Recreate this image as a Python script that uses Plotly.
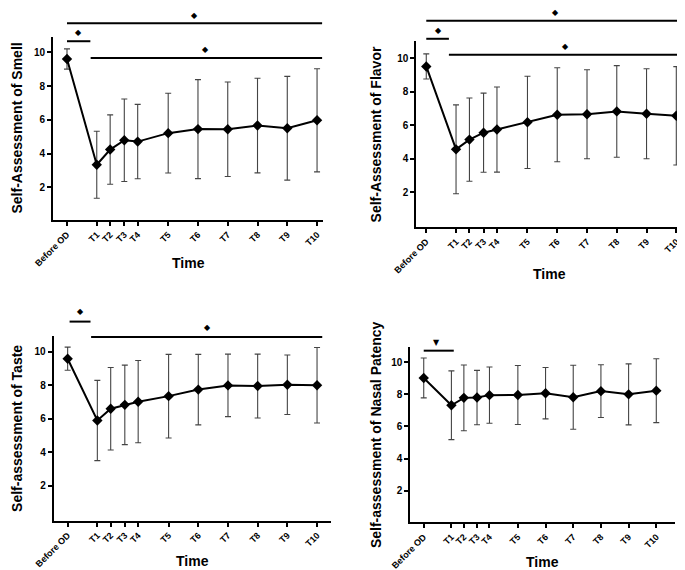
import plotly.graph_objects as go

labels = ["Before OD", "T1", "T2", "T3", "T4", "T5", "T6", "T7", "T8", "T9", "T10"]
time_pos = [0, 2, 2.9, 3.85, 4.75, 6.8, 8.8, 10.8, 12.8, 14.8, 16.8]

smell_mean = [9.6, 3.34, 4.24, 4.79, 4.71, 5.21, 5.45, 5.44, 5.66, 5.5, 5.97]
smell_sd = [0.6, 1.98, 2.05, 2.44, 2.2, 2.36, 2.93, 2.8, 2.8, 3.07, 3.05]
flavor_mean = [9.5, 4.56, 5.14, 5.55, 5.74, 6.17, 6.62, 6.65, 6.82, 6.68, 6.56]
flavor_sd = [0.75, 2.65, 2.48, 2.36, 2.54, 2.75, 2.8, 2.65, 2.73, 2.68, 2.93]
taste_mean = [9.58, 5.9, 6.6, 6.83, 7.02, 7.35, 7.74, 7.99, 7.95, 8.03, 8.0]
taste_sd = [0.69, 2.39, 2.46, 2.37, 2.45, 2.49, 2.1, 1.86, 1.9, 1.77, 2.25]
nasal_mean = [9.02, 7.32, 7.78, 7.8, 7.95, 7.96, 8.07, 7.82, 8.2, 8.0, 8.23]
nasal_sd = [1.24, 2.14, 2.05, 1.69, 1.75, 1.84, 1.6, 1.99, 1.64, 1.9, 1.99]

W, H = 685, 570
FONT = "Liberation Sans"

# significance bars: (x0, x1, y, symbol, symbol_x, symbol_y) in data units
panels = [
    dict(title="Self-Assessment of Smell", mean=smell_mean, sd=smell_sd,
         px=(45, 315), py=(29, 212), xr=(-0.94, 17.2), yr=(0.07, 10.9),
         ytshift=-37, xtshift=-43,
         sig=[(0, 17.14, 11.72, "◆", 8.6, 12.2),
              (0, 1.57, 10.65, "◆", 0.79, 11.18),
              (1.59, 17.14, 9.66, "◆", 9.3, 10.18)]),
    dict(title="Self-Assessment of Flavor", mean=flavor_mean, sd=flavor_sd,
         px=(408.3, 675), py=(33.3, 219), xr=(-0.67, 17.25), yr=(-0.07, 11.0),
         ytshift=-40, xtshift=-47,
         sig=[(0, 17.13, 12.22, "◆", 8.67, 12.74),
              (0, 1.52, 11.15, "◆", 0.79, 11.67),
              (1.52, 17.13, 10.2, "◆", 9.34, 10.7)]),
    dict(title="Self-assessment of Taste", mean=taste_mean, sd=taste_sd,
         px=(45.7, 322.7), py=(327.7, 512.7), xr=(-0.94, 17.72), yr=(-0.07, 10.95),
         ytshift=-36, xtshift=-40,
         sig=[(0.13, 1.54, 11.79, "◆", 0.87, 12.4),
              (1.58, 17.15, 10.88, "◆", 9.4, 11.41)]),
    dict(title="Self-assessment of Nasal Patency", mean=nasal_mean, sd=nasal_sd,
         px=(402.3, 666.7), py=(339.3, 514.3), xr=(-0.97, 18.13), yr=(0.03, 10.93),
         ytshift=-35, xtshift=-40,
         sig=[(0, 2.17, 10.72, "▼", 0.91, 11.26)]),
]

fig = go.Figure()
shapes, annotations = [], []
layout = dict(width=W, height=H, margin=dict(l=0, r=0, t=0, b=0),
              plot_bgcolor="white", paper_bgcolor="white", showlegend=False)

for i, p in enumerate(panels):
    n = "" if i == 0 else str(i + 1)
    xa, ya = "x" + n, "y" + n
    fig.add_trace(go.Scatter(
        x=time_pos, y=p["mean"], xaxis=xa, yaxis=ya, mode="lines+markers",
        line=dict(color="black", width=2),
        marker=dict(symbol="diamond", size=8, color="black"),
        error_y=dict(type="data", array=p["sd"], visible=True,
                     color="#444444", thickness=1.1, width=3),
        cliponaxis=False))
    axis_common = dict(showline=True, linecolor="black", linewidth=2,
                       ticks="outside", ticklen=4, tickwidth=1.6, tickcolor="black",
                       showgrid=False, zeroline=False, automargin=False)
    layout["xaxis" + n] = dict(
        axis_common, domain=[p["px"][0] / W, p["px"][1] / W], range=list(p["xr"]),
        anchor=ya, tickmode="array", tickvals=time_pos, ticktext=labels, tickangle=-45,
        tickfont=dict(family=FONT, size=9, color="black", weight="bold"))
    layout["yaxis" + n] = dict(
        axis_common, domain=[1 - p["py"][1] / H, 1 - p["py"][0] / H], range=list(p["yr"]),
        anchor=xa, tickmode="array", tickvals=[2, 4, 6, 8, 10],
        tickfont=dict(family=FONT, size=10, color="black", weight="bold"))
    # axis titles
    annotations.append(dict(text="Time", xref=xa + " domain", yref=ya + " domain",
                            x=0.5, y=0, yshift=p["xtshift"], showarrow=False,
                            xanchor="center", yanchor="middle",
                            font=dict(family=FONT, size=14, color="black", weight="bold")))
    annotations.append(dict(text=p["title"], xref=xa + " domain", yref=ya + " domain",
                            x=0, y=0.5, xshift=p["ytshift"], showarrow=False, textangle=-90,
                            xanchor="center", yanchor="middle",
                            font=dict(family=FONT, size=14, color="black", weight="bold")))
    x0r, x1r = p["xr"]
    y0r, y1r = p["yr"]
    fx = lambda v: (v - x0r) / (x1r - x0r)
    fy = lambda v: (v - y0r) / (y1r - y0r)
    for (sx0, sx1, sy, sym, tx, ty) in p["sig"]:
        shapes.append(dict(type="line", xref=xa + " domain", yref=ya + " domain",
                           x0=fx(sx0), x1=fx(sx1), y0=fy(sy), y1=fy(sy),
                           line=dict(color="black", width=2)))
        annotations.append(dict(text=sym, xref=xa + " domain", yref=ya + " domain",
                                x=fx(tx), y=fy(ty), showarrow=False,
                                xanchor="center", yanchor="middle",
                                font=dict(family="DejaVu Sans", size=8, color="black")))

layout["shapes"] = shapes
layout["annotations"] = annotations
fig.update_layout(**layout)
fig.write_html("out.html")
